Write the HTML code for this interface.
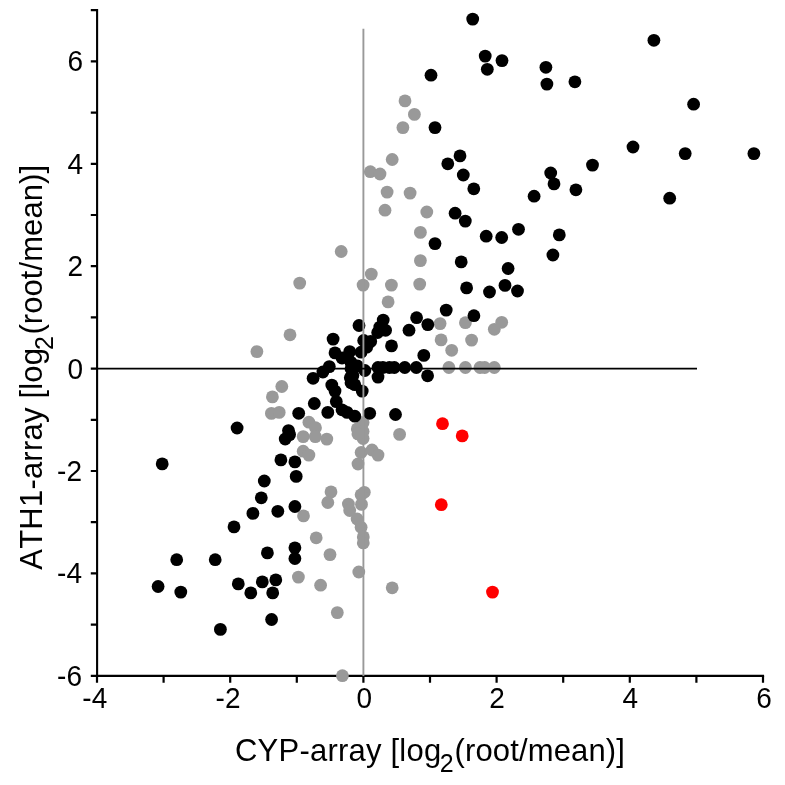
<!DOCTYPE html>
<html lang="en"><head><meta charset="utf-8"><title>CYP-array vs ATH1-array</title>
<style>html,body{margin:0;padding:0;background:#fff}svg{display:block}text{font-kerning:none;font-family:"Liberation Sans",Arial,sans-serif;fill:#000}.t{font-size:28px}.l{font-size:31px;letter-spacing:0.23px}.s{font-size:25px}</style></head><body>
<svg width="785" height="785" viewBox="0 0 785 785">
<rect width="785" height="785" fill="#fff"/>
<g stroke="#000" stroke-width="2.1" fill="none">
<path d="M97.1 9.1V675.9H764.1"/>
<path d="M97.0 675.9v6.8M163.6 675.9v6.8M230.2 675.9v6.8M296.8 675.9v6.8M363.4 675.9v6.8M430.0 675.9v6.8M496.6 675.9v6.8M563.2 675.9v6.8M629.8 675.9v6.8M696.4 675.9v6.8M763.0 675.9v6.8M97.1 675.8h-6.3M97.1 624.6h-6.3M97.1 573.4h-6.3M97.1 522.2h-6.3M97.1 471.0h-6.3M97.1 419.8h-6.3M97.1 368.6h-6.3M97.1 317.4h-6.3M97.1 266.2h-6.3M97.1 215.0h-6.3M97.1 163.8h-6.3M97.1 112.6h-6.3M97.1 61.4h-6.3M97.1 10.2h-6.3" stroke-width="2.2"/>
</g>
<g fill="#999"><circle cx="405.0" cy="100.9" r="6.4"/><circle cx="414.4" cy="114.4" r="6.4"/><circle cx="402.9" cy="127.6" r="6.4"/><circle cx="392.2" cy="159.5" r="6.4"/><circle cx="370.3" cy="171.7" r="6.4"/><circle cx="380.0" cy="174.0" r="6.4"/><circle cx="387.1" cy="192.1" r="6.4"/><circle cx="410.1" cy="193.1" r="6.4"/><circle cx="385.0" cy="210.2" r="6.4"/><circle cx="426.8" cy="212.0" r="6.4"/><circle cx="420.4" cy="232.4" r="6.4"/><circle cx="341.2" cy="251.5" r="6.4"/><circle cx="420.4" cy="260.6" r="6.4"/><circle cx="371.3" cy="274.1" r="6.4"/><circle cx="299.7" cy="283.1" r="6.4"/><circle cx="363.1" cy="285.1" r="6.4"/><circle cx="391.4" cy="285.1" r="6.4"/><circle cx="419.7" cy="284.1" r="6.4"/><circle cx="388.1" cy="301.9" r="6.4"/><circle cx="290.0" cy="334.8" r="6.4"/><circle cx="256.9" cy="351.6" r="6.4"/><circle cx="440.1" cy="323.6" r="6.4"/><circle cx="441.1" cy="339.9" r="6.4"/><circle cx="281.8" cy="386.5" r="6.4"/><circle cx="272.4" cy="396.9" r="6.4"/><circle cx="465.4" cy="322.7" r="6.4"/><circle cx="494.3" cy="329.3" r="6.4"/><circle cx="471.6" cy="340.1" r="6.4"/><circle cx="451.7" cy="350.3" r="6.4"/><circle cx="448.9" cy="367.5" r="6.4"/><circle cx="465.4" cy="367.5" r="6.4"/><circle cx="480.0" cy="367.5" r="6.4"/><circle cx="484.7" cy="367.5" r="6.4"/><circle cx="494.3" cy="367.5" r="6.4"/><circle cx="501.7" cy="322.3" r="6.4"/><circle cx="271.4" cy="413.4" r="6.4"/><circle cx="279.2" cy="412.4" r="6.4"/><circle cx="399.6" cy="434.4" r="6.4"/><circle cx="303.5" cy="515.9" r="6.4"/><circle cx="316.2" cy="537.8" r="6.4"/><circle cx="330.0" cy="554.6" r="6.4"/><circle cx="358.8" cy="572.0" r="6.4"/><circle cx="298.4" cy="577.1" r="6.4"/><circle cx="320.6" cy="585.2" r="6.4"/><circle cx="392.2" cy="587.8" r="6.4"/><circle cx="308.9" cy="422.2" r="6.4"/><circle cx="315.5" cy="427.7" r="6.4"/><circle cx="315.3" cy="436.6" r="6.4"/><circle cx="303.2" cy="436.6" r="6.4"/><circle cx="326.8" cy="439.1" r="6.4"/><circle cx="303.2" cy="451.2" r="6.4"/><circle cx="308.9" cy="455.1" r="6.4"/><circle cx="363.1" cy="422.6" r="6.4"/><circle cx="357.3" cy="428.9" r="6.4"/><circle cx="363.1" cy="431.5" r="6.4"/><circle cx="363.1" cy="438.5" r="6.4"/><circle cx="361.1" cy="452.5" r="6.4"/><circle cx="372.0" cy="450.0" r="6.4"/><circle cx="378.0" cy="455.1" r="6.4"/><circle cx="358.0" cy="464.0" r="6.4"/><circle cx="331.0" cy="491.9" r="6.4"/><circle cx="327.8" cy="502.5" r="6.4"/><circle cx="364.3" cy="492.3" r="6.4"/><circle cx="361.1" cy="494.8" r="6.4"/><circle cx="361.5" cy="504.4" r="6.4"/><circle cx="348.4" cy="504.1" r="6.4"/><circle cx="349.7" cy="510.5" r="6.4"/><circle cx="357.1" cy="519.0" r="6.4"/><circle cx="361.1" cy="527.3" r="6.4"/><circle cx="363.3" cy="536.9" r="6.4"/><circle cx="363.3" cy="542.9" r="6.4"/><circle cx="337.3" cy="612.6" r="6.4"/><circle cx="342.4" cy="675.7" r="6.4"/><circle cx="357.9" cy="433.9" r="6.4"/></g>
<g fill="#000"><circle cx="472.7" cy="19.1" r="6.4"/><circle cx="485.2" cy="56.1" r="6.4"/><circle cx="487.3" cy="69.3" r="6.4"/><circle cx="431.0" cy="75.2" r="6.4"/><circle cx="435.0" cy="127.6" r="6.4"/><circle cx="460.0" cy="155.9" r="6.4"/><circle cx="447.8" cy="163.8" r="6.4"/><circle cx="463.3" cy="175.0" r="6.4"/><circle cx="473.8" cy="188.8" r="6.4"/><circle cx="502.0" cy="60.6" r="6.4"/><circle cx="545.9" cy="67.3" r="6.4"/><circle cx="546.9" cy="84.1" r="6.4"/><circle cx="574.9" cy="81.8" r="6.4"/><circle cx="653.9" cy="40.3" r="6.4"/><circle cx="693.6" cy="104.2" r="6.4"/><circle cx="633.0" cy="147.0" r="6.4"/><circle cx="685.2" cy="153.6" r="6.4"/><circle cx="592.5" cy="165.1" r="6.4"/><circle cx="550.7" cy="173.0" r="6.4"/><circle cx="554.0" cy="183.9" r="6.4"/><circle cx="575.9" cy="189.8" r="6.4"/><circle cx="534.1" cy="196.2" r="6.4"/><circle cx="669.7" cy="198.2" r="6.4"/><circle cx="753.9" cy="153.6" r="6.4"/><circle cx="435.0" cy="243.6" r="6.4"/><circle cx="446.2" cy="310.1" r="6.4"/><circle cx="416.6" cy="317.7" r="6.4"/><circle cx="427.8" cy="324.6" r="6.4"/><circle cx="409.0" cy="330.2" r="6.4"/><circle cx="423.8" cy="355.4" r="6.4"/><circle cx="427.6" cy="375.8" r="6.4"/><circle cx="383.2" cy="320.1" r="6.4"/><circle cx="385.6" cy="330.3" r="6.4"/><circle cx="377.7" cy="332.5" r="6.4"/><circle cx="359.0" cy="325.5" r="6.4"/><circle cx="333.1" cy="339.1" r="6.4"/><circle cx="363.7" cy="340.5" r="6.4"/><circle cx="370.7" cy="341.4" r="6.4"/><circle cx="391.5" cy="345.9" r="6.4"/><circle cx="349.7" cy="351.6" r="6.4"/><circle cx="335.0" cy="352.9" r="6.4"/><circle cx="361.1" cy="352.2" r="6.4"/><circle cx="342.0" cy="358.0" r="6.4"/><circle cx="351.0" cy="362.4" r="6.4"/><circle cx="329.3" cy="366.6" r="6.4"/><circle cx="322.9" cy="372.0" r="6.4"/><circle cx="313.1" cy="378.3" r="6.4"/><circle cx="351.0" cy="368.8" r="6.4"/><circle cx="364.8" cy="370.5" r="6.4"/><circle cx="378.0" cy="367.5" r="6.4"/><circle cx="382.9" cy="367.5" r="6.4"/><circle cx="394.3" cy="367.5" r="6.4"/><circle cx="378.0" cy="377.1" r="6.4"/><circle cx="350.3" cy="377.7" r="6.4"/><circle cx="351.0" cy="382.8" r="6.4"/><circle cx="354.8" cy="384.7" r="6.4"/><circle cx="331.8" cy="385.1" r="6.4"/><circle cx="335.0" cy="391.1" r="6.4"/><circle cx="362.2" cy="391.1" r="6.4"/><circle cx="473.9" cy="315.7" r="6.4"/><circle cx="404.8" cy="367.5" r="6.4"/><circle cx="416.3" cy="367.5" r="6.4"/><circle cx="455.1" cy="213.2" r="6.4"/><circle cx="465.3" cy="221.1" r="6.4"/><circle cx="486.2" cy="236.2" r="6.4"/><circle cx="501.7" cy="237.5" r="6.4"/><circle cx="518.5" cy="229.3" r="6.4"/><circle cx="559.3" cy="234.9" r="6.4"/><circle cx="552.9" cy="255.0" r="6.4"/><circle cx="461.2" cy="261.9" r="6.4"/><circle cx="508.1" cy="268.5" r="6.4"/><circle cx="466.6" cy="287.9" r="6.4"/><circle cx="489.5" cy="292.0" r="6.4"/><circle cx="505.0" cy="285.4" r="6.4"/><circle cx="517.5" cy="291.0" r="6.4"/><circle cx="237.1" cy="428.0" r="6.4"/><circle cx="288.5" cy="430.6" r="6.4"/><circle cx="285.2" cy="439.0" r="6.4"/><circle cx="162.2" cy="463.9" r="6.4"/><circle cx="280.9" cy="459.9" r="6.4"/><circle cx="294.9" cy="461.9" r="6.4"/><circle cx="296.2" cy="476.4" r="6.4"/><circle cx="264.3" cy="481.0" r="6.4"/><circle cx="261.3" cy="497.8" r="6.4"/><circle cx="252.9" cy="513.4" r="6.4"/><circle cx="277.8" cy="511.3" r="6.4"/><circle cx="294.9" cy="506.5" r="6.4"/><circle cx="234.0" cy="526.9" r="6.4"/><circle cx="267.4" cy="552.9" r="6.4"/><circle cx="294.9" cy="547.8" r="6.4"/><circle cx="294.9" cy="558.5" r="6.4"/><circle cx="176.7" cy="559.7" r="6.4"/><circle cx="215.2" cy="559.7" r="6.4"/><circle cx="158.1" cy="586.5" r="6.4"/><circle cx="180.8" cy="592.1" r="6.4"/><circle cx="238.3" cy="583.9" r="6.4"/><circle cx="262.3" cy="581.9" r="6.4"/><circle cx="275.8" cy="579.9" r="6.4"/><circle cx="250.8" cy="592.9" r="6.4"/><circle cx="272.7" cy="592.9" r="6.4"/><circle cx="395.5" cy="414.5" r="6.4"/><circle cx="314.3" cy="403.5" r="6.4"/><circle cx="336.3" cy="401.6" r="6.4"/><circle cx="327.8" cy="412.4" r="6.4"/><circle cx="342.0" cy="409.8" r="6.4"/><circle cx="347.1" cy="412.4" r="6.4"/><circle cx="354.8" cy="416.2" r="6.4"/><circle cx="369.7" cy="413.3" r="6.4"/><circle cx="298.7" cy="413.3" r="6.4"/><circle cx="271.6" cy="619.5" r="6.4"/><circle cx="220.4" cy="629.4" r="6.4"/><circle cx="366.7" cy="347.2" r="6.4"/><circle cx="357.5" cy="366.0" r="6.4"/><circle cx="352.9" cy="375.5" r="6.4"/><circle cx="379.8" cy="327.1" r="6.4"/><circle cx="389.4" cy="367.5" r="6.4"/><circle cx="289.6" cy="434.6" r="6.4"/></g>
<g fill="#f00"><circle cx="442.5" cy="423.7" r="6.4"/><circle cx="462.2" cy="435.9" r="6.4"/><circle cx="441.3" cy="504.7" r="6.4"/><circle cx="492.5" cy="592.1" r="6.4"/></g>
<line x1="363.4" y1="28.8" x2="363.4" y2="675.9" stroke="#999" stroke-width="1.9"/>
<line x1="97.1" y1="368.7" x2="697" y2="368.7" stroke="#000" stroke-width="1.8"/>
<text class="t" transform="translate(94.8 707.8) scale(1 1.03)" text-anchor="middle">-4</text>
<text class="t" transform="translate(228.0 707.8) scale(1 1.03)" text-anchor="middle">-2</text>
<text class="t" transform="translate(364.2 707.8) scale(1 1.03)" text-anchor="middle">0</text>
<text class="t" transform="translate(497.1 707.8) scale(1 1.03)" text-anchor="middle">2</text>
<text class="t" transform="translate(630.3 707.8) scale(1 1.03)" text-anchor="middle">4</text>
<text class="t" transform="translate(764.0 707.8) scale(1 1.03)" text-anchor="middle">6</text>
<text class="t" transform="translate(82.0 685.7) scale(1 1.03)" text-anchor="end">-6</text>
<text class="t" transform="translate(82.0 583.3) scale(1 1.03)" text-anchor="end">-4</text>
<text class="t" transform="translate(82.0 480.9) scale(1 1.03)" text-anchor="end">-2</text>
<text class="t" transform="translate(83.2 378.5) scale(1 1.03)" text-anchor="end">0</text>
<text class="t" transform="translate(83.2 276.1) scale(1 1.03)" text-anchor="end">2</text>
<text class="t" transform="translate(83.2 173.7) scale(1 1.03)" text-anchor="end">4</text>
<text class="t" transform="translate(83.2 71.3) scale(1 1.03)" text-anchor="end">6</text>
<text class="l" transform="translate(235 760.5) scale(1 1.04)">CYP-array [log<tspan class="s" dx="-1.6" dy="10.6">2</tspan><tspan dx="0.5" dy="-10.6" style="letter-spacing:0.16px">(root/mean)]</tspan></text>
<text class="l" style="letter-spacing:0.22px" transform="translate(41.9 569.7) rotate(-90) scale(1 1.04)">ATH1-array [log<tspan class="s" dx="-2.4" dy="10.6">2</tspan><tspan dx="1.4" dy="-10.6" style="letter-spacing:0.08px">(root/mean)]</tspan></text>
</svg></body></html>
